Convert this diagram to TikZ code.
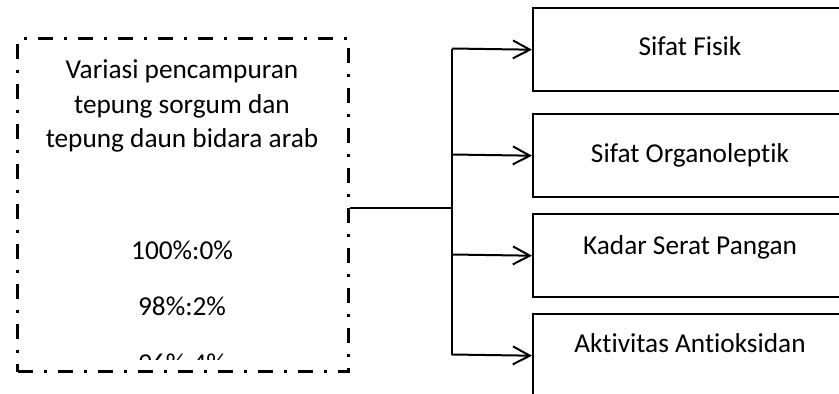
\documentclass[tikz,border=0pt]{standalone}
\usepackage{fontspec}
\setmainfont{Carlito}[Ligatures={NoCommon}]
\usetikzlibrary{arrows.meta}
\begin{document}
\begin{tikzpicture}[x=1pt,y=-1pt,
  txt/.style={font=\fontsize{27.3}{33}\selectfont, anchor=base, inner sep=0pt},
  dashbox/.style={draw, line width=3pt, dash pattern=on 15pt off 11pt on 3pt off 11pt},
  outbox/.style={draw, line width=2.4pt, rectangle, minimum width=316pt, minimum height=83pt, inner sep=0pt, anchor=north west},
  conn/.style={line width=2pt},
  arr/.style={line width=2pt, -{Straight Barb[length=17pt, width=18pt, line width=2pt]}}
]
\useasboundingbox (0,0) rectangle (839,394);
\fill[white] (0,0) rectangle (839,394);
\clip (0,0) rectangle (839,394);

% left box
\node[dashbox, rectangle, minimum width=331pt, minimum height=333pt, inner sep=0pt, anchor=north west] (left) at (16,37) {};
\node[txt] (t1) at (182,78.5) {Variasi pencampuran};
\node[txt] (t2) at (182,113) {tepung sorgum dan};
\node[txt] (t3) at (182,147.5) {tepung daun bidara arab};
\node[txt] (r1) at (182,259) {100\%:0\%};
\node[txt] (r2) at (182,315) {98\%:2\%};
\begin{scope}
  \clip (16,37) rectangle (347,359);
  \node[txt] (r3) at (182,372) {96\%:4\%};
\end{scope}

% right boxes
\node[outbox] (b1) at (532,7) {};
\node[outbox] (b2) at (532,113) {};
\node[outbox] (b3) at (532,213) {};
\node[outbox] (b4) at (532,313) {};
\node[txt] (l1) at (690,55) {Sifat Fisik};
\node[txt] (l2) at (690,162) {Sifat Organoleptik};
\node[txt] (l3) at (690,254) {Kadar Serat Pangan};
\node[txt] (l4) at (690,352) {Aktivitas Antioksidan};

% connectors
\coordinate (j) at (452,208);
\coordinate (s1) at (452,48.5);
\coordinate (s2) at (452,154.5);
\coordinate (s3) at (452,254.5);
\coordinate (s4) at (452,354.5);
\draw[conn] (left.east |- j) -- (j);
\draw[conn] (s1) -- (s4);
\draw[arr] (s1) -- (b1.west);
\draw[arr] (s2) -- (b2.west);
\draw[arr] (s3) -- (b3.west);
\draw[arr] (s4) -- (b4.west);
\end{tikzpicture}
\end{document}
